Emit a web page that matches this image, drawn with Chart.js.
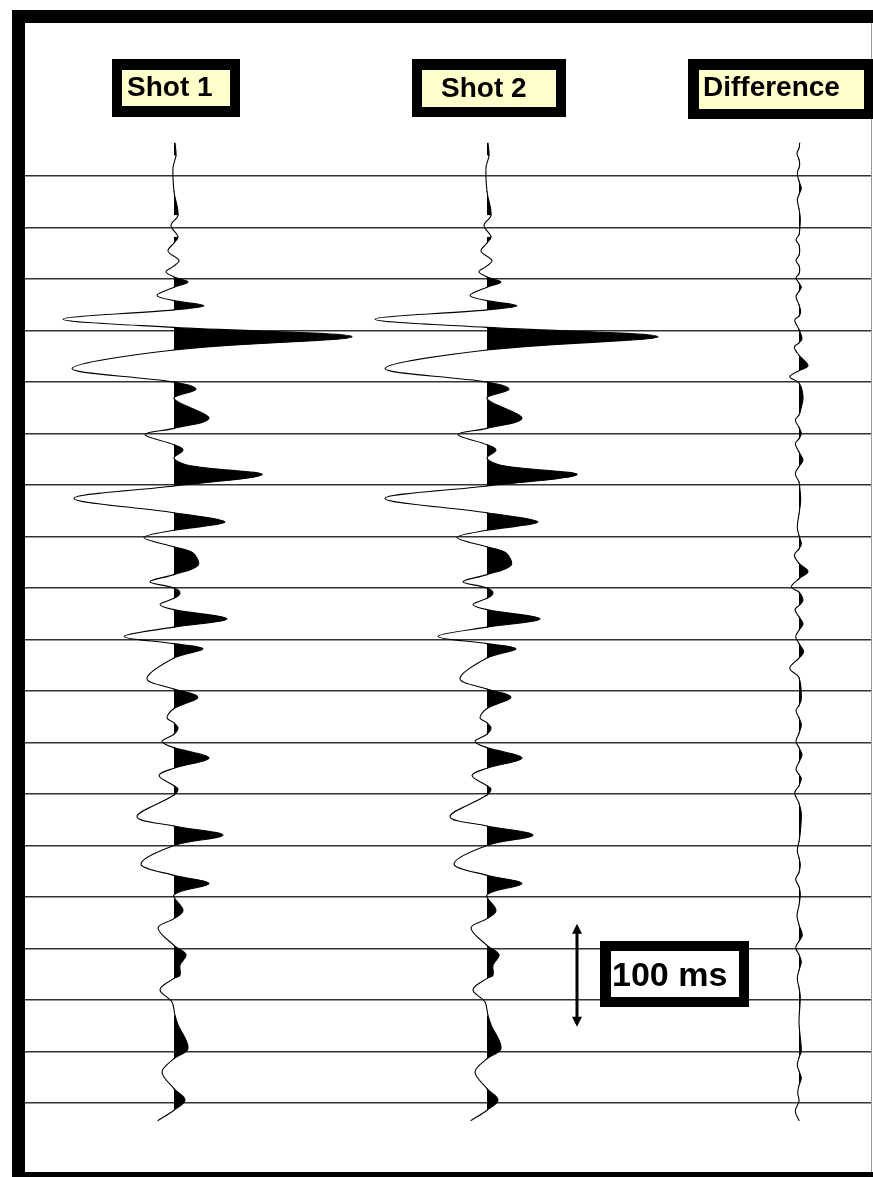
<!DOCTYPE html>
<html>
<head>
<meta charset="utf-8">
<title>Shot 1 / Shot 2 / Difference</title>
<script src="https://cdn.jsdelivr.net/npm/chart.js@4.4.1/dist/chart.umd.min.js"></script>
<style>
  html, body { margin: 0; padding: 0; background: #fff; }
  canvas { display: block; }
</style>
</head>
<body>
<canvas id="traces" width="873" height="1177"></canvas>
<script>
// Trace titles, left to right
const traceNames = ['Shot 1', 'Shot 2', 'Difference'];

// Timing lines every 50 ms
const timeLines = [150, 200, 250, 300, 350, 400, 450, 500, 550, 600,
                   650, 700, 750, 800, 850, 900, 950, 1000, 1050];

// Sample times (ms) shared by both shots
const shotTimes = [
  118, 130, 142, 165, 188, 198, 209, 215, 223, 232,
  238, 243, 248, 253, 258, 266, 271, 276, 280, 289,
  297, 306, 319, 337, 350, 357, 366, 385, 395, 401,
  411, 416, 424, 431, 440, 451, 463, 477, 486, 494,
  501, 510, 516, 528, 537, 544, 550, 555, 560, 566,
  571, 580, 588, 597, 604, 609, 618, 638, 648, 656,
  667, 676, 681, 686, 692, 699, 705, 715, 725, 732,
  742, 745, 751, 772, 781, 790, 800, 818, 829, 837,
  848, 863, 871, 880, 897, 906, 916, 926, 929, 940,
  952, 965, 974, 997, 1007, 1020, 1036, 1047, 1057, 1067
];

// Amplitudes of Shot 1
const shot1Amp = [
  1, 2, -1, 0, 4, -3, 4, 0, -6, 5,
  -1, -8, 0, 14, 0, -17, 0, 30, 0, -111,
  0, 178, 0, -102, 0, 22, 0, 35, 0, -29,
  0, 9, 0, 15, 88, 0, -100, 0, 51, 0,
  -30, 0, 19, 24, 0, -24, 0, 6, 0, -14,
  0, 53, 0, -50, 0, 29, 0, -27, 0, 24,
  0, -7, 0, 4, 0, -12, 0, 35, 0, -15,
  0, 4, 0, -37, 0, 49, 0, -33, 0, 35,
  0, 9, 0, -16, 0, 12, 6, 6, 0, -14,
  -2, 1, 4, 14, 0, -12, 0, 11, 0, -16
];

// Amplitudes of Shot 2
const shot2Amp = [
  1, 2, -1, 0, 4, -3, 4, 0, -6, 5,
  -1, -8, 0, 14, 0, -17, 0, 30, 0, -112,
  0, 171, 0, -102, 0, 22, 0, 35, 0, -29,
  0, 9, 0, 15, 90, 0, -102, 0, 51, 0,
  -30, 0, 19, 24, 0, -24, 0, 6, 0, -14,
  0, 53, 0, -49, 0, 29, 0, -27, 0, 24,
  0, -7, 0, 4, 0, -12, 0, 35, 0, -15,
  0, 4, 0, -37, 0, 46, 0, -33, 0, 35,
  0, 9, 0, -16, 0, 12, 6, 6, 0, -14,
  -2, 1, 4, 14, 0, -12, 0, 11, 0, -16
];

// Sample times (ms) and amplitudes of the difference trace
const diffTimes = [
  118, 123, 128, 134, 138, 142, 147, 155, 162, 168,
  173, 182, 191, 202, 207, 212, 217, 222, 227, 232,
  237, 241, 245, 249, 254, 258, 262, 267, 275, 282,
  286, 290, 299, 308, 312, 316, 324, 334, 339, 345,
  351, 364, 377, 382, 387, 394, 400, 405, 410, 418,
  426, 432, 439, 447, 452, 465, 478, 491, 499, 507,
  512, 518, 526, 534, 541, 549, 554, 562, 567, 571,
  578, 585, 591, 597, 604, 612, 618, 628, 637, 658,
  664, 669, 676, 683, 691, 699, 705, 712, 719, 726,
  731, 735, 742, 749, 759, 769, 787, 796, 805, 812,
  819, 826, 833, 840, 847, 858, 868, 877, 887, 893,
  899, 906, 913, 921, 929, 938, 947, 972, 999, 1006,
  1013, 1019, 1026, 1033, 1040, 1048, 1058, 1067
];
const diffAmp = [
  0.7, 0, -2, 0, 0.7, 0, -1.7, 0, 2.3, 0,
  -1.7, 0, 1.3, 0.7, 0, -3, 0, 0.7, 0, -3,
  0, 0.7, 0, -3, 0, 2.3, 0, -3, 0, 1.7,
  0, -4.3, 0, 3, 0, -4.7, 0, 9, 0, -9.3,
  0, 4, 1.7, 0, -3.7, 0, 2.3, 0, -3.7, 0,
  4, 0, -3.7, 0, 0.7, 1.7, 0, -1.7, 0, 2.3,
  0, -4.7, 0, 9, 0, -7.7, 0, 4, 0, -4,
  0, 4, 0, -3.3, 0, 4.7, 0, -9.3, 0, 2.3,
  0, -3, 0, 2.3, 0, -3, 0, 3, 0, -3,
  0, 2.3, 0, -4.3, 0, 2.3, 1.3, 0, -1.7, 0,
  1.3, 0, -3.3, 0, 1.3, 0, -2, 0, 3.3, 0,
  -3.3, 0, 2.3, 0, -1.7, 0, 1.3, 0, 2.3, 0,
  -1.7, 0, 2.3, 0, -1.3, 0, -3.7, 0
];

// Time scale bar
const scaleBarMs = [876, 976];
const scaleBarLabel = '100 ms';

// Where each trace sits on the horizontal axis
const traceOffsets = [0, 313, 625];

// One wiggle dataset per trace; positive lobes are filled black to the trace baseline
function traceDataset(times, amps, offset) {
  return {
    data: times.map((t, i) => ({ x: offset + amps[i], y: t })),
    borderColor: '#000',
    borderWidth: 1.1,
    borderCapStyle: 'round',
    borderJoinStyle: 'round',
    backgroundColor: 'rgba(0,0,0,0)',
    pointRadius: 0,
    tension: 0.35,
    fill: { value: offset },
    segment: {
      backgroundColor: (ctx) => {
        const a0 = amps[ctx.p0DataIndex];
        const a1 = amps[ctx.p1DataIndex];
        return (a0 >= 0 && a1 >= 0 && a0 + a1 > 0) ? '#000' : 'rgba(0,0,0,0)';
      }
    }
  };
}

const fontFamily = '"Liberation Sans", Arial, Helvetica, sans-serif';

// Draws a title box: black border, coloured inside, bold text
function drawBox(ctx, text, outer, inner, fill, tx, ty, size) {
  ctx.fillStyle = '#000';
  ctx.fillRect(outer[0], outer[1], outer[2], outer[3]);
  ctx.fillStyle = fill;
  ctx.fillRect(inner[0], inner[1], inner[2], inner[3]);
  ctx.fillStyle = '#000';
  ctx.font = 'bold ' + size + 'px ' + fontFamily;
  ctx.textBaseline = 'alphabetic';
  ctx.textAlign = 'left';
  ctx.fillText(text, tx, ty);
}

const framePlugin = {
  id: 'frame',
  beforeDraw(chart) {
    const ctx = chart.ctx;
    ctx.save();
    ctx.fillStyle = '#fff';
    ctx.fillRect(0, 0, chart.width, chart.height);
    ctx.restore();
  },
  afterDraw(chart) {
    const ctx = chart.ctx;
    const xs = chart.scales.x;
    const ys = chart.scales.y;
    ctx.save();

    // outer frame
    ctx.fillStyle = '#000';
    ctx.fillRect(12, 10, 13, 1167);
    ctx.fillRect(12, 10, 861, 13);
    ctx.fillRect(12, 1172, 861, 5);
    ctx.fillStyle = '#999';
    ctx.fillRect(871, 23, 1, 1149);

    // trace titles
    drawBox(ctx, traceNames[0], [112, 59, 128, 58], [122, 70, 108, 36], '#ffffcc', 127, 96, 28);
    drawBox(ctx, traceNames[1], [412, 59, 154, 58], [422, 70, 134, 37], '#ffffcc', 441, 97, 28);
    drawBox(ctx, traceNames[2], [688, 59, 190, 60], [699, 70, 165, 39], '#ffffcc', 703, 96, 28);

    // 100 ms scale bar
    const ax = xs.getPixelForValue(403);
    const top = ys.getPixelForValue(scaleBarMs[0]);
    const bot = ys.getPixelForValue(scaleBarMs[1]);
    ctx.fillStyle = '#000';
    ctx.fillRect(ax - 1.5, top + 8, 3, bot - top - 16);
    ctx.beginPath();
    ctx.moveTo(ax, top);
    ctx.lineTo(ax - 5, top + 10);
    ctx.lineTo(ax + 5, top + 10);
    ctx.closePath();
    ctx.fill();
    ctx.beginPath();
    ctx.moveTo(ax, bot);
    ctx.lineTo(ax - 5, bot - 10);
    ctx.lineTo(ax + 5, bot - 10);
    ctx.closePath();
    ctx.fill();
    drawBox(ctx, scaleBarLabel, [600, 941, 149, 66], [611, 951, 128, 46], '#fff', 612, 986, 34);

    ctx.restore();
  }
};

new Chart(document.getElementById('traces').getContext('2d'), {
  type: 'line',
  data: {
    datasets: [
      traceDataset(shotTimes, shot1Amp, traceOffsets[0]),
      traceDataset(shotTimes, shot2Amp, traceOffsets[1]),
      traceDataset(diffTimes, diffAmp, traceOffsets[2])
    ]
  },
  options: {
    indexAxis: 'y',
    responsive: false,
    animation: false,
    devicePixelRatio: 1,
    layout: { padding: { left: 25, right: 2, top: 21.5, bottom: 5 } },
    plugins: { legend: { display: false }, tooltip: { enabled: false } },
    scales: {
      x: { type: 'linear', min: -149, max: 697, display: false },
      y: {
        type: 'linear',
        reverse: true,
        min: 0,
        max: 1117,
        afterBuildTicks: (scale) => { scale.ticks = timeLines.map(v => ({ value: v })); },
        ticks: { display: false },
        grid: { color: '#333', lineWidth: 1.5, drawTicks: false },
        border: { display: false }
      }
    }
  },
  plugins: [framePlugin]
});
</script>
</body>
</html>
